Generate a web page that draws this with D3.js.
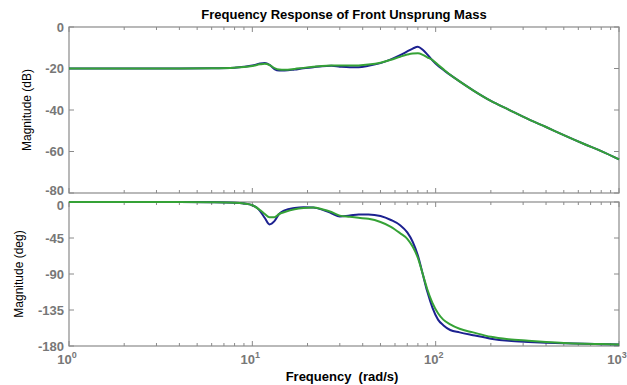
<!DOCTYPE html>
<html>
<head>
<meta charset="utf-8">
<script src="https://cdn.jsdelivr.net/npm/d3@7"></script>
<style>
  body { margin: 0; background: #fff; }
  svg { display: block; }
</style>
</head>
<body>
<div id="chart"></div>
<script>
// frequencies (rad/s) shared by all four curves
var freqs = [1, 2, 4, 6, 8, 9, 10, 11, 11.7, 12.4, 13.2, 14, 15, 17, 19, 21.5, 24, 27, 30, 34, 38, 43, 50, 57, 64, 70, 75, 80, 85, 90, 96, 103, 110, 120, 135, 160, 200, 250, 320, 400, 500, 650, 800, 1000];

// magnitude (dB)
var magBlue = [-20, -20, -20, -19.9, -19.6, -19.2, -18.6, -17.6, -17.3, -18.2, -20.3, -21, -21, -20.5, -19.9, -19.4, -18.9, -18.7, -19.1, -19.4, -19.4, -18.7, -17.4, -15.6, -13.6, -11.8, -10.4, -9.5, -11.0, -13.2, -16.0, -18.7, -20.6, -23.1, -26.2, -30.5, -35.6, -39.8, -44.4, -48.2, -52.1, -56.5, -59.8, -63.8];
var magGreen = [-20, -20, -20, -19.9, -19.6, -19.3, -18.8, -18.0, -17.7, -18.3, -19.8, -20.5, -20.6, -20.2, -19.7, -19.2, -18.8, -18.6, -18.6, -18.6, -18.5, -18.1, -17.2, -15.8, -14.3, -13.3, -12.8, -12.7, -13.4, -14.6, -15.9, -18.2, -20.3, -23.0, -26.2, -30.5, -35.6, -39.8, -44.4, -48.2, -52.1, -56.5, -59.8, -63.8];

// phase (deg)
var phBlue = [0, 0, 0, -0.3, -1, -2, -4, -11, -20, -28, -24, -15, -10.5, -7.5, -6.5, -7, -9.5, -14, -18, -17, -15.5, -15.5, -17.5, -22.5, -29, -38, -50, -67, -90, -112, -132, -147, -154, -160, -163, -166.5, -170.8, -173.5, -175, -176, -176.7, -177.3, -177.7, -178];
var phGreen = [0, 0, 0, -0.3, -1, -2, -4, -10, -15, -19, -19, -15, -12.5, -9, -7.5, -7, -9, -12.5, -17, -18.5, -19.8, -21, -25, -31, -39, -46, -56, -70, -90, -109, -126, -139, -147, -153, -158.5, -163, -168.5, -171.5, -173.4, -175, -176.3, -177.2, -177.6, -178];

var magTicks = [0, -20, -40, -60, -80];
var phTicks = [0, -45, -90, -135, -180];
var decades = [1, 10, 100, 1000];

var title = "Frequency Response of Front Unsprung Mass";
var xLabel = "Frequency  (rad/s)";
var magLabel = "Magnitude (dB)";
var phLabel = "Magnitude (deg)";

var blueColour = "#1c2190";
var greenColour = "#35a236";
var axisColour = "#8a8a8a";
var tickTextColour = "#777777";

var W = 627, H = 385;
var left = 69, right = 619;

var svg = d3.select("#chart").append("svg")
    .attr("width", W)
    .attr("height", H)
    .style("font-family", "'Liberation Sans', Arial, sans-serif");

var x = d3.scaleLog().domain([1, 1000]).range([left, right]);

// minor ticks 1..9 per decade
var minorTicks = [];
decades.slice(0, 3).forEach(function(d) {
    for (var k = 1; k < 10; k++) minorTicks.push(d * k);
});
minorTicks.push(1000);

function drawPanel(top, bottom, yDomain, yTicks, series, label, showXLabels) {
    var y = d3.scaleLinear().domain(yDomain).range([bottom, top]);
    var g = svg.append("g");

    // box
    g.append("rect")
        .attr("x", left).attr("y", top)
        .attr("width", right - left).attr("height", bottom - top)
        .attr("fill", "none")
        .attr("stroke", axisColour)
        .attr("stroke-width", 1.2);

    // y ticks, left and right, pointing inward
    yTicks.forEach(function(t, i) {
        g.append("line")
            .attr("x1", left).attr("x2", left + 5)
            .attr("y1", y(t)).attr("y2", y(t))
            .attr("stroke", axisColour);
        g.append("line")
            .attr("x1", right - 5).attr("x2", right)
            .attr("y1", y(t)).attr("y2", y(t))
            .attr("stroke", axisColour);
        // nudge the labels where the two panels meet
        var nudge = 0;
        if (!showXLabels && i == yTicks.length - 1) nudge = -3;
        if (showXLabels && i == 0) nudge = 3;
        g.append("text")
            .attr("x", left - 5)
            .attr("y", y(t) + nudge)
            .attr("dy", "0.36em")
            .attr("text-anchor", "end")
            .attr("font-size", 13)
            .attr("font-weight", "bold")
            .attr("fill", tickTextColour)
            .text(t);
    });

    // x ticks top and bottom
    minorTicks.forEach(function(f) {
        var len = decades.indexOf(f) != -1 ? 5 : 3;
        g.append("line")
            .attr("x1", x(f)).attr("x2", x(f))
            .attr("y1", bottom).attr("y2", bottom - len)
            .attr("stroke", axisColour);
        g.append("line")
            .attr("x1", x(f)).attr("x2", x(f))
            .attr("y1", top).attr("y2", top + len)
            .attr("stroke", axisColour);
    });

    if (showXLabels) {
        decades.forEach(function(f, i) {
            var t = g.append("text")
                .attr("x", x(f) - 2)
                .attr("y", bottom + 18)
                .attr("text-anchor", "middle")
                .attr("font-size", 13)
                .attr("font-weight", "bold")
                .attr("fill", tickTextColour);
            t.append("tspan").text("10");
            t.append("tspan")
                .attr("dy", -6)
                .attr("font-size", 9)
                .text(i);
        });
    }

    // y label
    g.append("text")
        .attr("transform", "translate(" + (showXLabels ? 23 : 31) + "," + ((top + bottom) / 2) + ") rotate(-90)")
        .attr("text-anchor", "middle")
        .attr("font-size", 12)
        .attr("fill", "#000")
        .text(label);

    var line = d3.line()
        .x(function(d, i) { return x(freqs[i]); })
        .y(function(d) { return y(d); })
        .curve(d3.curveMonotoneX);

    series.forEach(function(s) {
        g.append("path")
            .datum(s.values)
            .attr("d", line)
            .attr("fill", "none")
            .attr("stroke", s.colour)
            .attr("stroke-width", 2)
            .attr("stroke-linejoin", "round");
    });
}

drawPanel(27, 193, [-80, 0], magTicks,
    [{values: magBlue, colour: blueColour}, {values: magGreen, colour: greenColour}],
    magLabel, false);

drawPanel(202, 346, [-180, 0], phTicks,
    [{values: phBlue, colour: blueColour}, {values: phGreen, colour: greenColour}],
    phLabel, true);

// title
svg.append("text")
    .attr("x", (left + right) / 2)
    .attr("y", 19)
    .attr("text-anchor", "middle")
    .attr("font-size", 13)
    .attr("font-weight", "bold")
    .text(title);

// x axis label
svg.append("text")
    .attr("x", 342)
    .attr("y", 381)
    .attr("text-anchor", "middle")
    .attr("font-size", 13)
    .attr("font-weight", "bold")
    .attr("xml:space", "preserve")
    .style("white-space", "pre")
    .text(xLabel);
</script>
</body>
</html>
